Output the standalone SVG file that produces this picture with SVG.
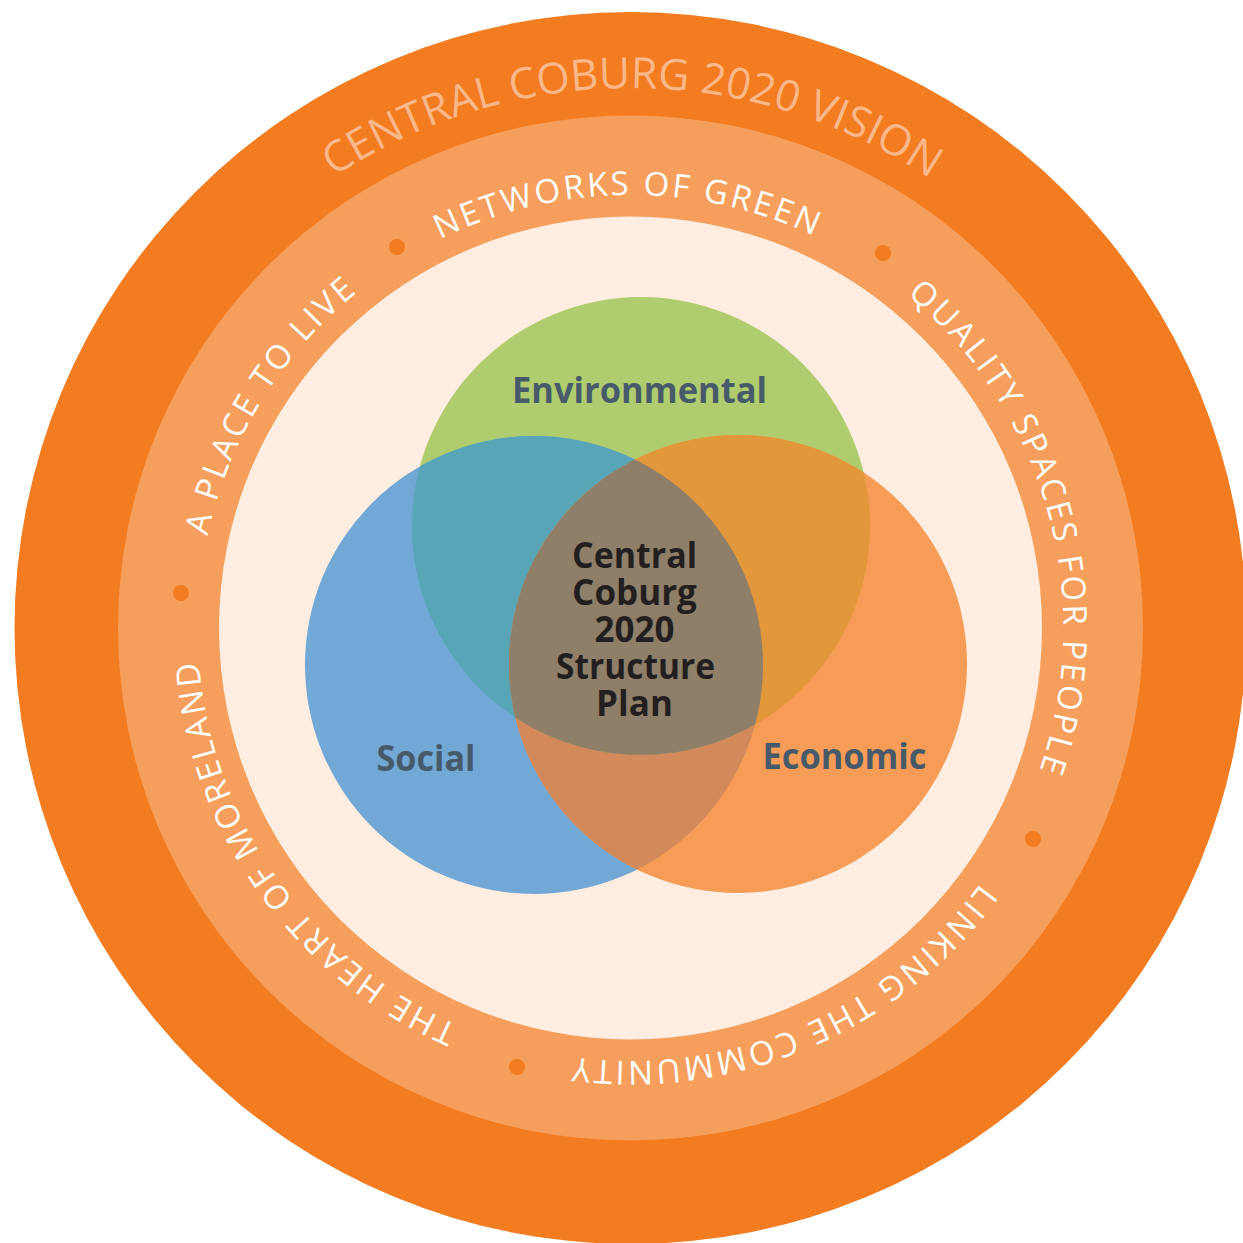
<svg xmlns="http://www.w3.org/2000/svg" width="1243" height="1243" viewBox="0 0 1243 1243">
<defs>
<style>
.ring-txt{font-family:"Open Sans","Noto Sans",sans-serif;font-size:33px;fill:#ffffff;letter-spacing:2.8px}
.outer-txt{font-family:"Open Sans","Noto Sans",sans-serif;font-size:43px;fill:#FAB88A}
.lbl{font-family:"Open Sans","Noto Sans",sans-serif;font-weight:700;font-size:36px;fill:#475A6A;text-anchor:middle}
.ctr{font-family:"Open Sans","Noto Sans",sans-serif;font-weight:700;font-size:35px;fill:#231F20;text-anchor:middle}
.dot{fill:#F37B20}
</style>
<path id="arcIn" d="M 199.15 590.26 A 433 433 0 0 1 1061.85 590.26" fill="none"/>
<path id="arcOut" d="M 92.56 580.93 A 540 540 0 0 1 1168.44 580.93" fill="none"/>
<clipPath id="cpG"><circle cx="641" cy="526" r="229"/></clipPath>
<clipPath id="cpB"><circle cx="534" cy="665" r="229"/></clipPath>
<clipPath id="cpO"><circle cx="738" cy="664" r="229"/></clipPath>
</defs>
<rect width="1243" height="1243" fill="#ffffff"/>

<g id="rings">
<circle cx="630.5" cy="628" r="616" fill="#F37B20"/>
<circle cx="630.5" cy="628" r="512.5" fill="#F69F5C"/>
<circle cx="630.5" cy="628" r="411.5" fill="#FEEDE0"/>
</g>

<g id="vision-title">
<text class="outer-txt" text-anchor="middle" transform="rotate(0.2 630.5 628)"><textPath href="#arcOut" startOffset="50%">CENTRAL COBURG 2020 VISION</textPath></text>
</g>

<g id="ring-themes">
<text id="t-networks" class="ring-txt" text-anchor="middle" transform="rotate(-0.35 630.5 628)"><textPath href="#arcIn" startOffset="50%">NETWORKS OF GREEN</textPath></text>
<text id="t-quality" class="ring-txt" text-anchor="middle" transform="rotate(74.6 630.5 628)"><textPath href="#arcIn" startOffset="50%">QUALITY SPACES FOR PEOPLE</textPath></text>
<text id="t-linking" class="ring-txt" text-anchor="middle" transform="rotate(157 630.5 628)"><textPath href="#arcIn" startOffset="50%">LINKING THE COMMUNITY</textPath></text>
<text id="t-heart" class="ring-txt" text-anchor="middle" transform="rotate(234.7 630.5 628)"><textPath href="#arcIn" startOffset="50%">THE HEART OF MORELAND</textPath></text>
<text id="t-place" class="ring-txt" text-anchor="middle" transform="rotate(-58.3 630.5 628)"><textPath href="#arcIn" startOffset="50%">A PLACE TO LIVE</textPath></text>
<circle class="dot" cx="397" cy="247" r="8"/>
<circle class="dot" cx="883" cy="253" r="8"/>
<circle class="dot" cx="181" cy="593" r="8"/>
<circle class="dot" cx="1033" cy="839" r="8"/>
<circle class="dot" cx="517" cy="1067" r="8"/>
</g>

<g id="venn">
<circle id="environmental" cx="641" cy="526" r="229" fill="#AFCD6E"/>
<circle id="social" cx="534" cy="665" r="229" fill="#71A8D5"/>
<circle id="economic" cx="738" cy="664" r="229" fill="#F79C57"/>
<circle cx="738" cy="664" r="229" fill="#D4895B" clip-path="url(#cpB)"/>
<circle cx="641" cy="526" r="229" fill="#57A5B7" clip-path="url(#cpB)"/>
<circle cx="641" cy="526" r="229" fill="#E2973A" clip-path="url(#cpO)"/>
<g clip-path="url(#cpB)"><circle cx="641" cy="526" r="229" fill="#8F7F69" clip-path="url(#cpO)"/></g>
</g>

<g id="labels">
<text class="lbl" x="639.5" y="403" textLength="255" lengthAdjust="spacingAndGlyphs">Environmental</text>
<text class="lbl" x="426" y="771" textLength="99" lengthAdjust="spacingAndGlyphs">Social</text>
<text class="lbl" x="844.5" y="769" textLength="164" lengthAdjust="spacingAndGlyphs">Economic</text>
</g>

<g id="center-node">
<text class="ctr" x="634.5" y="568" textLength="125" lengthAdjust="spacingAndGlyphs">Central</text>
<text class="ctr" x="634.5" y="605">Coburg</text>
<text class="ctr" x="634.5" y="642">2020</text>
<text class="ctr" x="635.5" y="679" textLength="159" lengthAdjust="spacingAndGlyphs">Structure</text>
<text class="ctr" x="634.5" y="716">Plan</text>
</g>
</svg>
